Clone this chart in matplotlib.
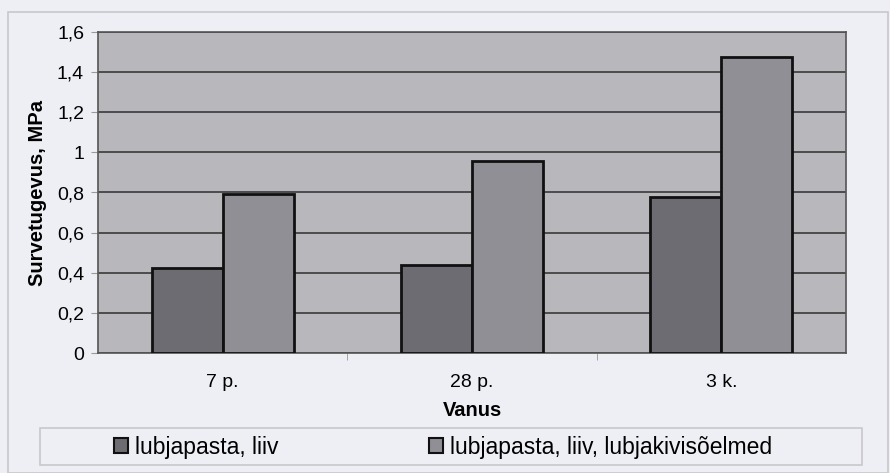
import matplotlib
matplotlib.use("Agg")
import matplotlib.pyplot as plt
from matplotlib.patches import Rectangle
from matplotlib.ticker import FuncFormatter
import numpy as np

categories = ["7 p.", "28 p.", "3 k."]
series_names = ["lubjapasta, liiv", "lubjapasta, liiv, lubjakivisõelmed"]
series_a = [0.425, 0.44, 0.78]
series_b = [0.795, 0.955, 1.475]
y_ticks = [0, 0.2, 0.4, 0.6, 0.8, 1.0, 1.2, 1.4, 1.6]

plt.rcParams['font.family'] = ['Liberation Sans', 'DejaVu Sans']

bg = "#eeeff5"
fig = plt.figure(figsize=(8.9, 4.73), dpi=100, facecolor=bg)

# outer chart frame
fig.patches.append(Rectangle((8/890, 0.0), 880/890, (473-12)/473, transform=fig.transFigure,
                             facecolor="none", edgecolor="#c8c8cc", lw=1.2))
# legend frame
fig.patches.append(Rectangle((40/890, (473-465)/473), 822/890, 37/473, transform=fig.transFigure,
                             facecolor="none", edgecolor="#c8c8cc", lw=1.2))

ax = fig.add_axes([98/890, (473-353)/473, 748/890, 321/473])
ax.set_facecolor("#b7b7bc")

x = np.arange(len(categories))
w = 0.285
ax.bar(x - w/2, series_a, width=w, color="#6c6c72", edgecolor="#111111", lw=2,
       label=series_names[0], zorder=3)
ax.bar(x + w/2, series_b, width=w, color="#8f8f95", edgecolor="#111111", lw=2,
       label=series_names[1], zorder=3)

ax.set_xlim(-0.5, 2.5)
ax.set_ylim(0, 1.6)
ax.set_yticks(y_ticks)
ax.yaxis.set_major_formatter(FuncFormatter(lambda v, p: ("%g" % round(v, 1)).replace(".", ",")))
ax.grid(axis="y", color="#3a3a3a", lw=1.2, zorder=1)
ax.set_xticks(x)
ax.set_xticklabels(categories)
ax.set_xticks([0.5, 1.5], minor=True)
ax.tick_params(axis="x", which="major", length=0, pad=15, labelsize=14)
ax.tick_params(axis="x", which="minor", length=5, color="#999999")
ax.tick_params(axis="y", length=5, color="#999999", labelsize=14, pad=5)
for s in ax.spines.values():
    s.set_color("#555555")
    s.set_linewidth(1.2)

ax.set_ylabel("Survetugevus, MPa", fontsize=14.5, fontweight="bold", labelpad=7)
ax.set_xlabel("Vanus", fontsize=14.5, fontweight="bold", labelpad=7)

leg = fig.legend(loc="center left", bbox_to_anchor=(114/890, (473-447)/473),
                 ncol=2, frameon=False, fontsize=16.5, handlelength=0.6,
                 handleheight=0.6, handletextpad=0.3, borderaxespad=0, borderpad=0,
                 columnspacing=6.6)
for h in leg.legend_handles:
    h.set_edgecolor("#111111")
    h.set_linewidth(1.5)

fig.savefig("out.png", dpi=100, facecolor=bg)
